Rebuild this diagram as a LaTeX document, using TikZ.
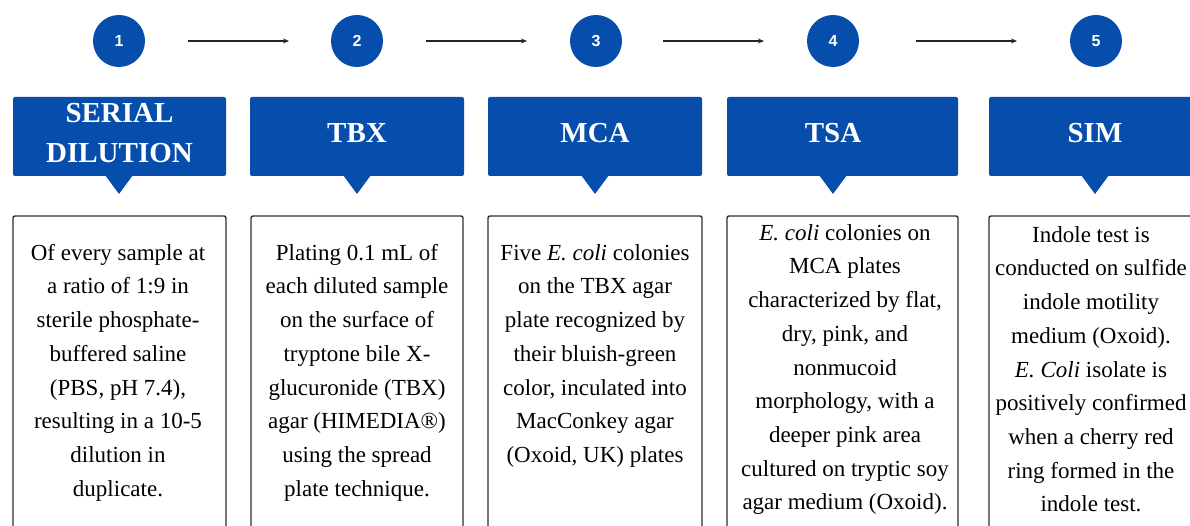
\documentclass[tikz,border=0pt]{standalone}
\usepackage{fontspec}
\setmainfont{Liberation Serif}
\newfontfamily\numfont{Liberation Sans}
\usetikzlibrary{arrows.meta}
\definecolor{hblue}{HTML}{064DAC}
\definecolor{bordergray}{HTML}{2E2E2E}
\tikzset{
  numcirc/.style={circle,fill=hblue,minimum size=52pt,inner sep=0pt,text=white,font=\numfont\bfseries\fontsize{16}{16}\selectfont},
  flowarrow/.style={line width=1.2pt,-{Stealth[length=6pt,width=5pt]},black!85},
  headbox/.style={fill=hblue,rounded corners=2pt},
  headtext/.style={text=white,font=\bfseries\fontsize{29}{40}\selectfont,align=center,inner sep=0pt},
  bodybox/.style={draw=bordergray,line width=1.4pt,rounded corners=2pt},
  bodytext/.style={anchor=north,inner sep=0pt,align=center,font=\fontsize{23}{33.7}\selectfont,text=black}
}
\newcommand{\fs}{\rule{0pt}{17pt}}
\begin{document}
\begin{tikzpicture}[x=1pt,y=-1pt]
\useasboundingbox (0,0) rectangle (1190,526);
\clip (0,0) rectangle (1190,526);
% circles
\node[numcirc] (c1) at (119,41) {1};
\node[numcirc] (c2) at (357,41) {2};
\node[numcirc] (c3) at (596,41) {3};
\node[numcirc] (c4) at (833,41) {4};
\node[numcirc] (c5) at (1096,41) {5};
% arrows
\coordinate (a1s) at (188,41); \coordinate (a1e) at (289,41);
\coordinate (a2s) at (426,41); \coordinate (a2e) at (527,41);
\coordinate (a3s) at (663,41); \coordinate (a3e) at (764,41);
\coordinate (a4s) at (916,41); \coordinate (a4e) at (1017,41);
\draw[flowarrow] (a1s) -- (a1e);
\draw[flowarrow] (a2s) -- (a2e);
\draw[flowarrow] (a3s) -- (a3e);
\draw[flowarrow] (a4s) -- (a4e);
% header boxes
\fill[headbox] (13,97) rectangle (226,176);
\fill[hblue] (105,175) -- (133,175) -- (119,194) -- cycle;
\fill[headbox] (250,97) rectangle (464,176);
\fill[hblue] (343,175) -- (371,175) -- (357,194) -- cycle;
\fill[headbox] (488,97) rectangle (702,176);
\fill[hblue] (581,175) -- (609,175) -- (595,194) -- cycle;
\fill[headbox] (727,97) rectangle (958,176);
\fill[hblue] (819,175) -- (847,175) -- (833,194) -- cycle;
\fill[headbox] (989,97) rectangle (1220,176);
\fill[hblue] (1081,175) -- (1109,175) -- (1095,194) -- cycle;
\node[headtext] (h1) at (119.5,133) {SERIAL\\DILUTION};
\node[headtext] (h2) at (357,133) {TBX};
\node[headtext] (h3) at (595,133) {MCA};
\node[headtext] (h4) at (833,133) {TSA};
\node[headtext] (h5) at (1095,133) {SIM};
% body boxes
\draw[bodybox] (13,216) rectangle (226,560);
\draw[bodybox] (251,216) rectangle (463,560);
\draw[bodybox] (488,216) rectangle (702,560);
\draw[bodybox] (727,216) rectangle (958,560);
\draw[bodybox] (989,216) rectangle (1220,560);
\node[bodytext] (t1) at (118,243) {\fs Of every sample at\\a ratio of 1:9 in\\sterile phosphate-\\buffered saline\\(PBS, pH 7.4),\\resulting in a 10-5\\dilution in\\duplicate.};
\node[bodytext] (t2) at (357,243) {\fs Plating 0.1 mL of\\each diluted sample\\on the surface of\\tryptone bile X-\\glucuronide (TBX)\\agar (HIMEDIA\textregistered)\\using the spread\\plate technique.};
\node[bodytext] (t3) at (595,243) {\fs Five \textit{E. coli} colonies\\on the TBX agar\\plate recognized by\\their bluish-green\\color, inculated into\\MacConkey agar\\(Oxoid, UK) plates};
\node[bodytext] (t4) at (845,223) {\fs\textit{E. coli} colonies on\\MCA plates\\characterized by flat,\\dry, pink, and\\nonmucoid\\morphology, with a\\deeper pink area\\cultured on tryptic soy\\agar medium (Oxoid).};
\node[bodytext] (t5) at (1091,225) {\fs Indole test is\\conducted on sulfide\\indole motility\\medium (Oxoid).\\\textit{E. Coli} isolate is\\positively confirmed\\when a cherry red\\ring formed in the\\indole test.};
\end{tikzpicture}
\end{document}
